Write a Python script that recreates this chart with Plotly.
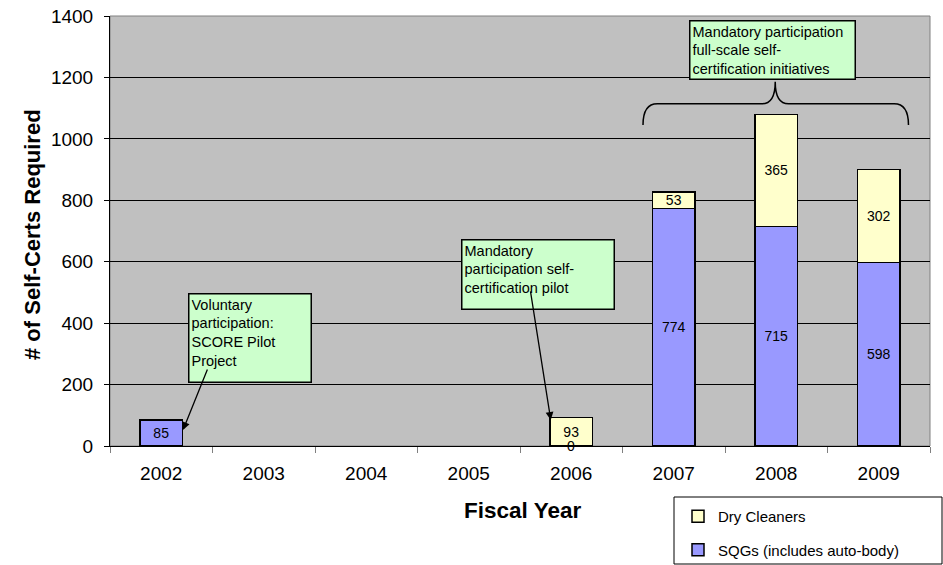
import plotly.graph_objects as go

years = ["2002", "2003", "2004", "2005", "2006", "2007", "2008", "2009"]
sqg = [85, None, None, None, 0, 774, 715, 598]
dry = [None, None, None, None, 93, 53, 365, 302]
y_ticks = [0, 200, 400, 600, 800, 1000, 1200, 1400]

FONT = "Liberation Sans, Arial, sans-serif"

def labels(vals):
    return ["" if v is None or v == 0 else str(v) for v in vals]

fig = go.Figure()
fig.add_trace(go.Bar(
    x=years, y=sqg, name="SQGs (includes auto-body)", legendgroup="a", legendrank=2,
    marker=dict(color="#9999FF", line=dict(color="black", width=1.5)),
    text=labels(sqg), textposition="inside", insidetextanchor="middle", textangle=0,
    constraintext="none", textfont=dict(family=FONT, size=14, color="black"),
    width=0.41, hoverinfo="skip"))
fig.add_trace(go.Bar(
    x=years, y=dry, name="Dry Cleaners", legendgroup="b", legendrank=1,
    marker=dict(color="#FFFFCC", line=dict(color="black", width=1.5)),
    text=labels(dry), textposition="inside", insidetextanchor="middle", textangle=0,
    constraintext="none", textfont=dict(family=FONT, size=14, color="black"),
    width=0.41, hoverinfo="skip"))

annotations = []
for i, v in enumerate(sqg):
    if v == 0:
        annotations.append(dict(xref="x", yref="y", x=i, y=v, text=str(v), showarrow=False,
                                yanchor="middle", yshift=0,
                                font=dict(family=FONT, size=14, color="black")))

box_font = dict(family=FONT, size=14.5, color="black")
boxes = [
    dict(x=0.0951, y=0.356, w=117, h=83, text="Voluntary<br>participation:<br>SCORE Pilot<br>Project"),
    dict(x=0.428, y=0.481, w=147, h=64, text="Mandatory<br>participation self-<br>certification pilot"),
    dict(x=0.706, y=0.991, w=160, h=53, text="Mandatory participation<br>full-scale self-<br>certification initiatives"),
]
for b in boxes:
    annotations.append(dict(xref="paper", yref="paper", x=b["x"], y=b["y"],
                            xanchor="left", yanchor="top", text=b["text"],
                            showarrow=False, align="left", valign="top",
                            width=b["w"], height=b["h"], bgcolor="#CCFFCC",
                            bordercolor="black", borderwidth=1.5, borderpad=2,
                            font=box_font))
arrows = [
    dict(x=0.212, y=52, ax=0.456, ay=254),
    dict(x=3.80, y=85, ax=3.60, ay=508),
]
for a in arrows:
    annotations.append(dict(x=a["x"], y=a["y"], ax=a["ax"], ay=a["ay"],
                            xref="x", yref="y", axref="x", ayref="y", text="",
                            showarrow=True, arrowhead=2, arrowsize=1.2,
                            arrowwidth=1.3, arrowcolor="black"))
annotations.append(dict(xref="paper", yref="paper", x=(522 - 110) / 820, y=(446 - 510) / 430,
                        xanchor="center", yanchor="middle",
                        text="<b>Fiscal Year</b>", showarrow=False,
                        font=dict(family=FONT, size=22.5, color="black")))
annotations.append(dict(xref="paper", yref="paper", x=(32 - 110) / 820, y=(446 - 235) / 430,
                        xanchor="center", yanchor="middle",
                        text="<b># of Self-Certs Required</b>", showarrow=False, textangle=-90,
                        font=dict(family=FONT, size=22, color="black")))

shapes = [
    dict(type="rect", xref="paper", yref="paper", x0=0, x1=1, y0=0, y1=1,
         line=dict(color="#808080", width=1), layer="below"),
    dict(type="path", xref="x", yref="y",
         path="M 4.70,1045 Q 4.70,1114 4.84,1114 L 5.86,1114 Q 5.99,1114 5.99,1186 "
              "Q 5.99,1114 6.12,1114 L 7.15,1114 Q 7.29,1114 7.29,1045",
         line=dict(color="black", width=1.5)),
    dict(type="rect", xref="paper", yref="paper",
         x0=(674 - 110) / 820, x1=(942 - 110) / 820,
         y0=(446 - 497) / 430, y1=(446 - 564) / 430,
         line=dict(color="black", width=1)),
]

fig.update_layout(
    width=943, height=565, barmode="stack",
    margin=dict(l=110, r=13, t=16, b=119, autoexpand=False),
    paper_bgcolor="white", plot_bgcolor="#C0C0C0",
    font=dict(family=FONT, color="black"),
    showlegend=True,
    legend=dict(x=(678 - 110) / 820, y=(446 - 500) / 430, xanchor="left", yanchor="top",
                traceorder="grouped", tracegroupgap=11,
                font=dict(family=FONT, size=15, color="black"),
                bgcolor="rgba(0,0,0,0)", borderwidth=0),
    annotations=annotations, shapes=shapes,
    xaxis=dict(type="category", categoryorder="array", categoryarray=years,
               tickson="boundaries", ticks="outside", ticklen=6, tickcolor="#808080",
               showline=True, linecolor="black", linewidth=1, showgrid=False,
               ticklabelstandoff=10,
               tickfont=dict(family=FONT, size=19, color="black"),
               range=[-0.5, 7.5]),
    yaxis=dict(range=[0, 1400], tickvals=y_ticks, ticks="outside", ticklen=5,
               tickcolor="black", showline=True, linecolor="black", linewidth=1,
               showgrid=True, gridcolor="black", gridwidth=1, zeroline=False,
               ticklabelstandoff=7,
               tickfont=dict(family=FONT, size=19, color="black")),
)

fig.write_html("out.html", config={"displayModeBar": False},
               post_script="document.body.style.margin='0';")
